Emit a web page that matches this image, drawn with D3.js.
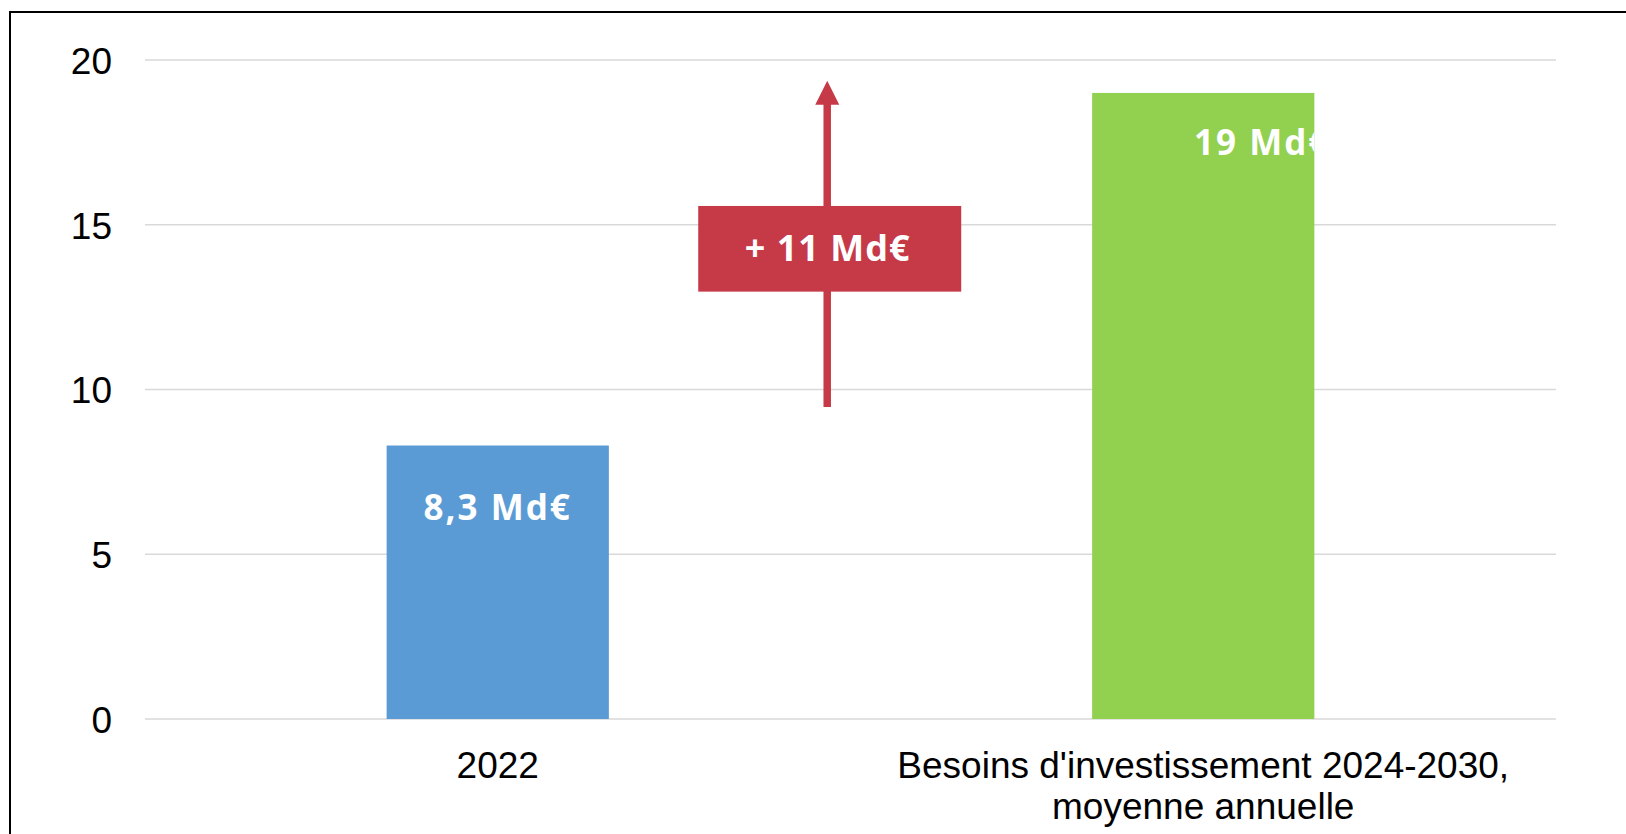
<!DOCTYPE html>
<html>
<head>
<meta charset="utf-8">
<script src="https://cdn.jsdelivr.net/npm/d3@7"></script>
<style>
  html, body { margin: 0; padding: 0; background: #fff; overflow: hidden; }
  svg { display: block; }
</style>
</head>
<body>
<svg id="chart" width="1626" height="834"></svg>
<script>
// ---- data ----
const categories = ["2022", "Besoins d'investissement 2024-2030,\nmoyenne annuelle"];
const values = [8.3, 19];
const valueLabels = ["8,3 Md€", "19 Md€"];
const barColors = ["#5B9BD5", "#92D050"];
const yTicks = [0, 5, 10, 15, 20];
const deltaLabel = "+ 11 Md€";
const deltaArrow = [9.47, 19.37];   // arrow from / to (value units)
const deltaBox = [12.97, 15.57];    // box bottom / top (value units)

// ---- layout ----
const W = 1626, H = 834;
const plot = { left: 145, right: 1556, top: 60, bottom: 719 };
const svg = d3.select("#chart");

// frame
svg.append("rect")
  .attr("x", 10).attr("y", 12)
  .attr("width", W + 20).attr("height", H + 20)
  .attr("fill", "none").attr("stroke", "#000").attr("stroke-width", 2);

const x = d3.scaleBand()
  .domain(categories)
  .range([plot.left, plot.right])
  .paddingInner(0.685)
  .paddingOuter(0.3425);

const y = d3.scaleLinear()
  .domain([0, 20])
  .range([plot.bottom, plot.top]);

// gridlines
svg.append("g").selectAll("line")
  .data(yTicks).join("line")
  .attr("x1", plot.left).attr("x2", plot.right)
  .attr("y1", d => y(d)).attr("y2", d => y(d))
  .attr("stroke", "#D9D9D9").attr("stroke-width", 1.5);

// y axis labels
const yAxis = d3.axisLeft(y).tickValues(yTicks).tickSize(0).tickPadding(0);
const yg = svg.append("g").attr("transform", `translate(112,0)`).call(yAxis);
yg.select(".domain").remove();
yg.selectAll("text")
  .attr("font-family", "'Liberation Sans', Arial, sans-serif")
  .attr("font-size", 37).attr("fill", "#000")
  .attr("dy", "0.36em");

// bars
svg.append("g").selectAll("rect")
  .data(categories).join("rect")
  .attr("x", d => x(d))
  .attr("width", x.bandwidth())
  .attr("y", (d, i) => y(values[i]))
  .attr("height", (d, i) => y(0) - y(values[i]))
  .attr("fill", (d, i) => barColors[i]);

// clip paths for value labels
const defs = svg.append("defs");
categories.forEach((d, i) => {
  defs.append("clipPath").attr("id", "clip" + i)
    .append("rect")
    .attr("x", x(d)).attr("width", x.bandwidth())
    .attr("y", y(values[i])).attr("height", y(0) - y(values[i]));
});

// value labels
const labelOffsets = [{ dx: 0, dy: 74.5 }, { dx: 59, dy: 62 }];
svg.append("g").selectAll("text")
  .data(categories).join("text")
  .attr("clip-path", (d, i) => `url(#clip${i})`)
  .attr("x", (d, i) => x(d) + x.bandwidth() / 2 + labelOffsets[i].dx)
  .attr("y", (d, i) => y(values[i]) + labelOffsets[i].dy)
  .attr("text-anchor", "middle")
  .attr("font-family", "'Open Sans', sans-serif")
  .attr("font-weight", 700)
  .attr("font-size", 35)
  .attr("letter-spacing", 2)
  .attr("fill", "#fff")
  .text((d, i) => valueLabels[i]);

// category labels
const cg = svg.append("g");
categories.forEach(d => {
  const lines = d.split("\n");
  const t = cg.append("text")
    .attr("x", x(d) + x.bandwidth() / 2)
    .attr("y", 778)
    .attr("text-anchor", "middle")
    .attr("font-family", "'Liberation Sans', Arial, sans-serif")
    .attr("font-size", 37).attr("fill", "#000");
  lines.forEach((ln, j) => {
    t.append("tspan")
      .attr("x", x(d) + x.bandwidth() / 2)
      .attr("dy", j === 0 ? 0 : 41)
      .text(ln);
  });
});

// delta annotation
const red = "#C63A48";
const ax = plot.left + (plot.right - plot.left) * 0.4835;
const headH = 24, headW = 24;
svg.append("line")
  .attr("x1", ax).attr("x2", ax)
  .attr("y1", y(deltaArrow[0])).attr("y2", y(deltaArrow[1]) + headH - 1)
  .attr("stroke", red).attr("stroke-width", 7.5);
svg.append("path")
  .attr("d", d3.line()([
    [ax, y(deltaArrow[1])],
    [ax - headW / 2, y(deltaArrow[1]) + headH],
    [ax + headW / 2, y(deltaArrow[1]) + headH]
  ]) + "Z")
  .attr("fill", red);
const boxW = 263;
svg.append("rect")
  .attr("x", ax + 2.5 - boxW / 2).attr("width", boxW)
  .attr("y", y(deltaBox[1])).attr("height", y(deltaBox[0]) - y(deltaBox[1]))
  .attr("fill", red);
svg.append("text")
  .attr("x", ax + 0.5)
  .attr("y", y((deltaBox[0] + deltaBox[1]) / 2) + 12.5)
  .attr("text-anchor", "middle")
  .attr("font-family", "'Open Sans', sans-serif")
  .attr("font-weight", 700)
  .attr("font-size", 36)
  .attr("letter-spacing", 1)
  .attr("fill", "#fff")
  .text(deltaLabel);
</script>
</body>
</html>
